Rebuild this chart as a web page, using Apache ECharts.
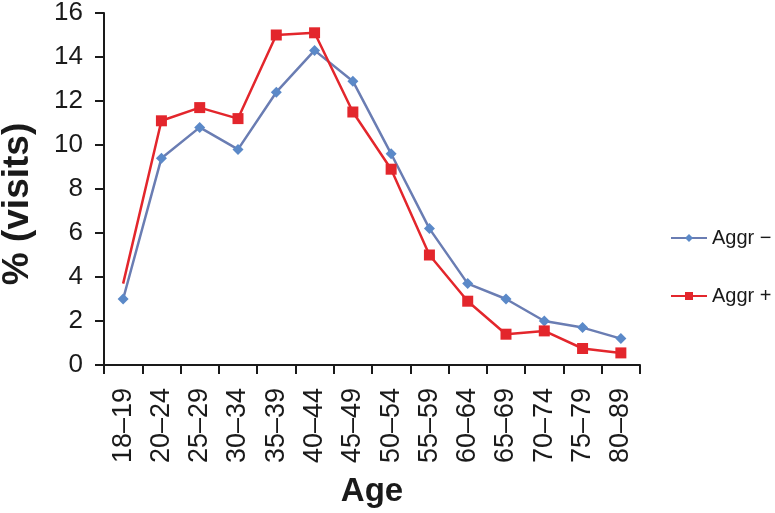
<!DOCTYPE html>
<html>
<head>
<meta charset="utf-8">
<script src="https://cdn.jsdelivr.net/npm/echarts@6/dist/echarts.min.js"></script>
<style>html,body{margin:0;padding:0;background:#fff}#c{width:775px;height:513px}</style>
</head>
<body>
<div id="c"></div>
<script>
var categories = ['18–19','20–24','25–29','30–34','35–39','40–44','45–49','50–54','55–59','60–64','65–69','70–74','75–79','80–89'];
var aggrMinus = [3.0, 9.4, 10.8, 9.8, 12.4, 14.3, 12.9, 9.6, 6.2, 3.7, 3.0, 2.0, 1.7, 1.2];
var aggrPlus = [3.7, 11.1, 11.7, 11.2, 15.0, 15.1, 11.5, 8.9, 5.0, 2.9, 1.4, 1.55, 0.75, 0.55];
var yTicks = {min: 0, max: 16, interval: 2};

var FONT = '"Liberation Sans", Arial, sans-serif';
var chart = echarts.init(document.getElementById('c'));
chart.setOption({
  animation: false,
  backgroundColor: '#fff',
  textStyle: {fontFamily: FONT, color: '#1a1a1a'},
  grid: {left: 104, right: 135, top: 12, bottom: 147, containLabel: false},
  legend: {
    orient: 'vertical', left: 665, top: 223, itemWidth: 36, itemHeight: 10, itemGap: 38,
    textStyle: {fontFamily: FONT, fontSize: 20, color: '#1a1a1a'},
    data: ['Aggr −', 'Aggr +']
  },
  graphic: [{
    type: 'text', x: 18, y: 204, rotation: Math.PI / 2,
    style: {text: '% (visits)', align: 'center', verticalAlign: 'middle',
      font: 'bold 37px "Liberation Sans", Arial, sans-serif', fill: '#1a1a1a'}
  }],
  xAxis: {
    type: 'category', data: categories, boundaryGap: true,
    name: 'Age', nameLocation: 'middle', nameGap: 110,
    nameTextStyle: {fontFamily: FONT, fontSize: 33, fontWeight: 'bold', color: '#1a1a1a'},
    axisLine: {lineStyle: {color: '#1a1a1a', width: 2}},
    axisTick: {show: true, length: 9, alignWithLabel: false, interval: 0, lineStyle: {color: '#1a1a1a', width: 2}},
    axisLabel: {rotate: 90, interval: 0, margin: 23, fontFamily: FONT, fontSize: 27, color: '#1a1a1a'},
    splitLine: {show: false}
  },
  yAxis: {
    type: 'value', min: yTicks.min, max: yTicks.max, interval: yTicks.interval,
    axisLine: {show: true, lineStyle: {color: '#1a1a1a', width: 2}},
    axisTick: {show: true, length: 9, lineStyle: {color: '#1a1a1a', width: 2}},
    axisLabel: {margin: 21, fontFamily: FONT, fontSize: 26, color: '#1a1a1a'},
    splitLine: {show: false}
  },
  series: [
    {
      name: 'Aggr −', type: 'line', data: aggrMinus,
      symbol: 'diamond', symbolSize: 11,
      lineStyle: {color: '#6a7db3', width: 2.5},
      itemStyle: {color: '#5b89c8'}
    },
    {
      name: 'Aggr +', type: 'line',
      data: aggrPlus.map(function (v, i) { return i === 0 ? {value: v, symbol: 'none'} : v; }),
      symbol: 'rect', symbolSize: 11,
      lineStyle: {color: '#e3262c', width: 2.5},
      itemStyle: {color: '#e3262c'}
    }
  ]
});
</script>
</body>
</html>
